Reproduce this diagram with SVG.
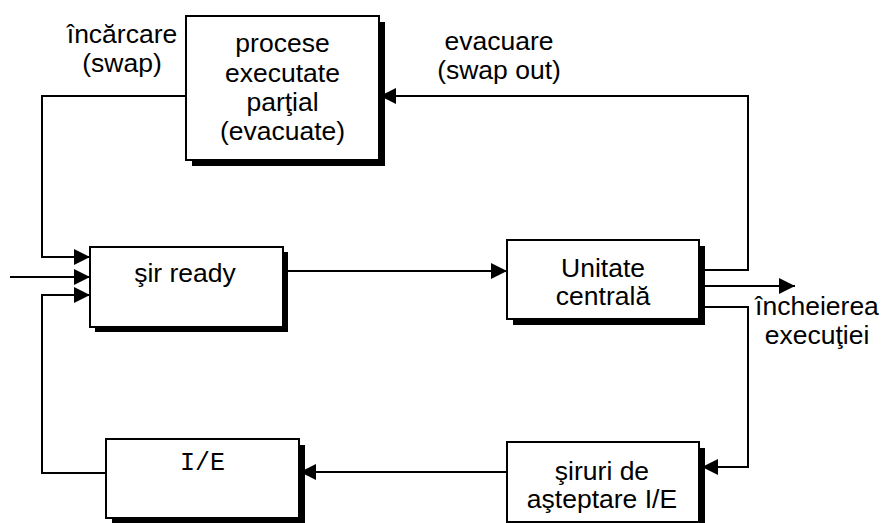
<svg xmlns="http://www.w3.org/2000/svg" width="883" height="523" viewBox="0 0 883 523">
<defs>
<style>
.box{fill:#fff;stroke:#000;stroke-width:2}
.sh{fill:#000}
.t{font-family:"Liberation Sans",Arial,sans-serif;font-size:26.5px;fill:#000;text-anchor:middle}
.m{font-family:"Liberation Mono","Courier New",monospace;font-size:25px;fill:#000;text-anchor:middle}
.c{fill:none;stroke:#000;stroke-width:2}
</style>
<marker id="ah" markerUnits="userSpaceOnUse" markerWidth="16" markerHeight="16" viewBox="0 0 16 16" refX="16" refY="8" orient="auto">
<path d="M0,0 L16,8 L0,16 Z" fill="#000"/>
</marker>
</defs>
<rect width="883" height="523" fill="#fff"/>

<g id="n-procese">
<rect class="sh" x="192" y="22" width="193" height="144"/>
<rect class="box" x="186" y="16" width="193" height="144"/>
<text class="t" x="282.5" y="52">procese</text>
<text class="t" x="282.5" y="82">executate</text>
<text class="t" x="282.5" y="111">parţial</text>
<text class="t" x="282.5" y="140">(evacuate)</text>
</g>

<g id="n-ready">
<rect class="sh" x="95" y="252" width="193" height="80"/>
<rect class="box" x="90" y="247" width="193" height="80"/>
<text class="t" x="185" y="282">şir ready</text>
</g>

<g id="n-unitate">
<rect class="sh" x="513" y="246" width="192" height="79"/>
<rect class="box" x="507" y="240" width="192" height="79"/>
<text class="t" x="603" y="277">Unitate</text>
<text class="t" x="603" y="305">centrală</text>
</g>

<g id="n-ie">
<rect class="sh" x="112" y="445" width="193" height="79"/>
<rect class="box" x="106" y="439" width="193" height="79"/>
<text class="m" x="202.5" y="470">I/E</text>
</g>

<g id="n-siruri">
<rect class="sh" x="513" y="448" width="192" height="80"/>
<rect class="box" x="507" y="442" width="192" height="80"/>
<text class="t" x="602" y="480">şiruri de</text>
<text class="t" x="602" y="508">aşteptare I/E</text>
</g>

<g id="labels">
<text class="t" x="122" y="43">încărcare</text>
<text class="t" x="122" y="72">(swap)</text>
<text class="t" x="499" y="50">evacuare</text>
<text class="t" x="499" y="79">(swap out)</text>
<text class="t" x="817" y="315">încheierea</text>
<text class="t" x="817" y="344">execuţiei</text>
</g>

<g id="connectors">
<polyline class="c" points="186,96 42,96 42,257 90,257" marker-end="url(#ah)"/>
<polyline class="c" points="10,277 90,277" marker-end="url(#ah)"/>
<polyline class="c" points="106,473 42,473 42,295 90,295" marker-end="url(#ah)"/>
<polyline class="c" points="283,271 507,271" marker-end="url(#ah)"/>
<polyline class="c" points="699,270 748,270 748,96 380,96" marker-end="url(#ah)"/>
<polyline class="c" points="699,286 795,286" marker-end="url(#ah)"/>
<polyline class="c" points="699,307 748,307 748,467 702,467" marker-end="url(#ah)"/>
<polyline class="c" points="507,472 300,472" marker-end="url(#ah)"/>
</g>
</svg>
